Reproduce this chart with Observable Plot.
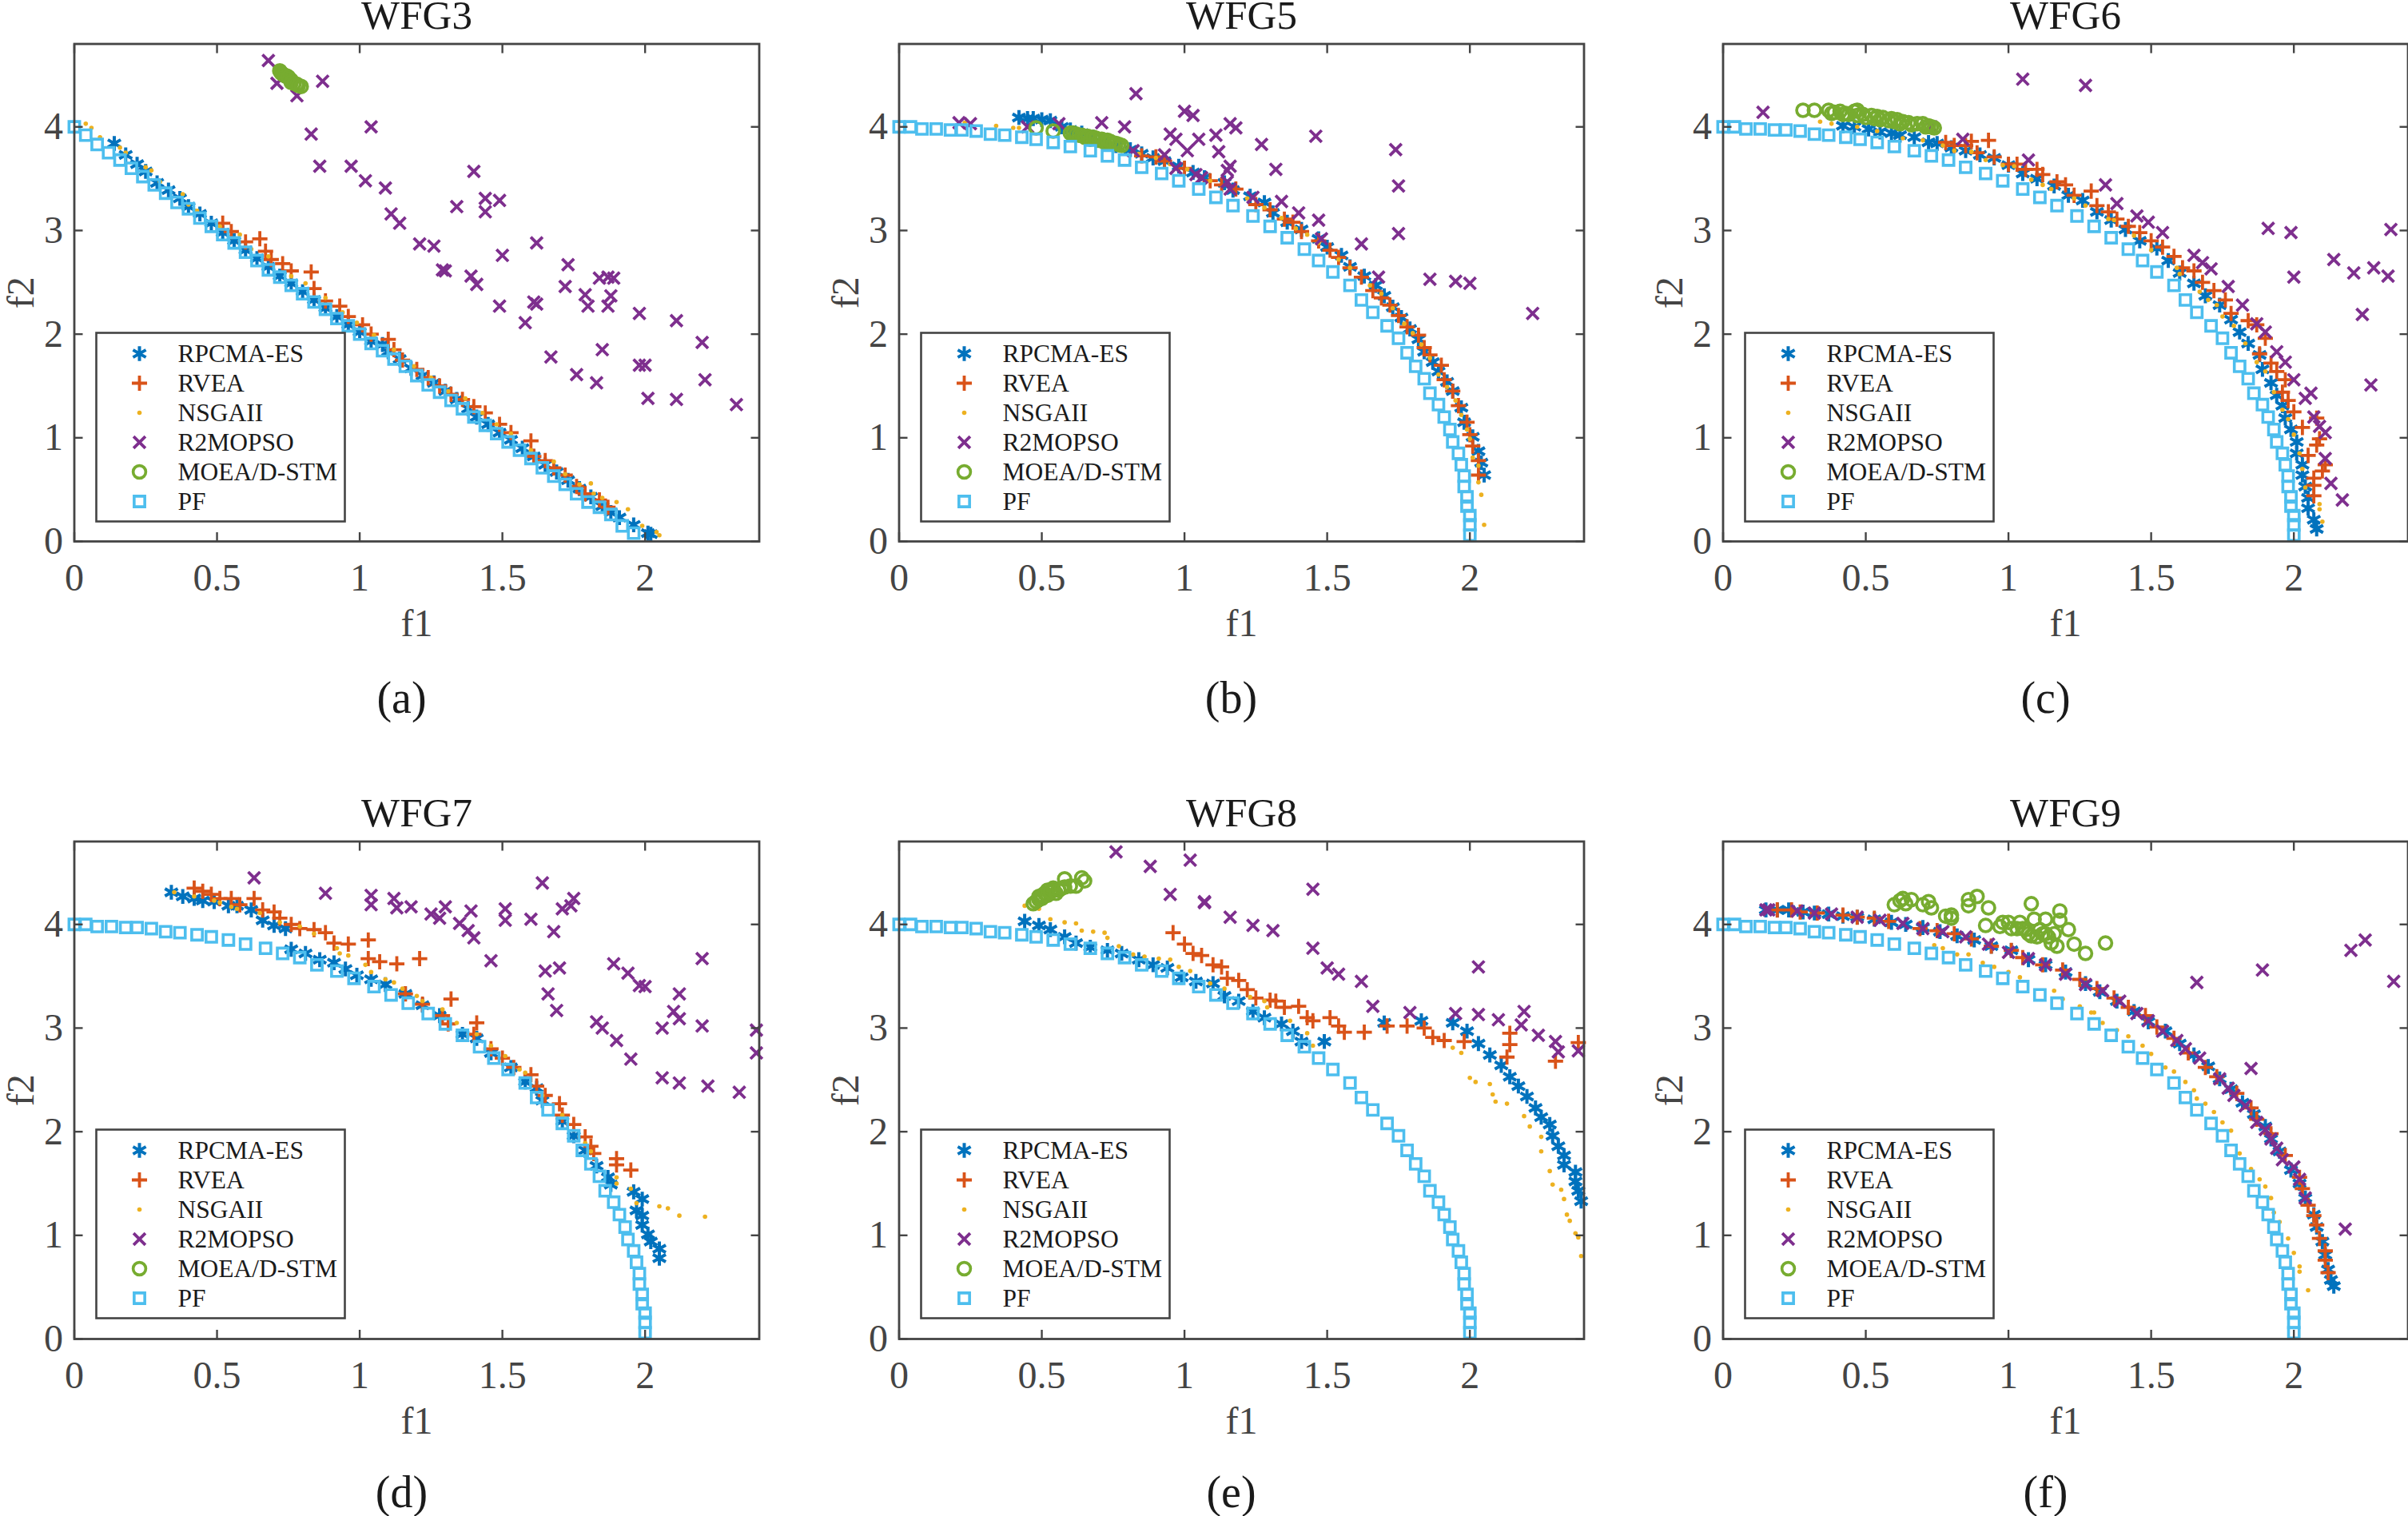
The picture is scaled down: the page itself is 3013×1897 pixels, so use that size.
<!DOCTYPE html>
<html><head><meta charset="utf-8">
<script src="https://cdn.jsdelivr.net/npm/d3@7"></script>
<script src="https://cdn.jsdelivr.net/npm/@observablehq/plot@0.6"></script>
<style>html,body{margin:0;padding:0;background:#fff;width:3013px;height:1897px;overflow:hidden}svg{position:absolute;overflow:visible}</style>
</head><body>
<script>
const xTicks=[0,.5,1,1.5,2];
const yTicks=[0,1,2,3,4];
const algorithms=["RPCMA-ES","RVEA","NSGAII","R2MOPSO","MOEA/D-STM","PF"];
const titles=["WFG3","WFG5","WFG6","WFG7","WFG8","WFG9"];
const captions=["(a)","(b)","(c)","(d)","(e)","(f)"];

const pfLinear=[[0,4],[.04,3.92],[.08,3.83],[.12,3.75],[.16,3.68],[.2,3.6],[.24,3.52],[.28,3.44],[.32,3.36],[.36,3.27],[.4,3.21],[.44,3.12],[.48,3.04],[.52,2.96],[.56,2.88],[.6,2.79],[.64,2.71],[.68,2.62],[.72,2.55],[.76,2.47],[.8,2.39],[.84,2.31],[.88,2.24],[.92,2.15],[.96,2.08],[1,2],[1.04,1.91],[1.08,1.84],[1.12,1.76],[1.16,1.69],[1.2,1.6],[1.24,1.51],[1.28,1.44],[1.32,1.36],[1.36,1.28],[1.4,1.2],[1.44,1.12],[1.48,1.04],[1.52,.96],[1.56,.88],[1.6,.8],[1.64,.71],[1.68,.63],[1.72,.55],[1.76,.46],[1.8,.38],[1.84,.33],[1.88,.26],[1.92,.15],[1.96,.08]];
const pfCurve=[[0,4],[.04,4],[.08,3.98],[.13,3.98],[.18,3.97],[.22,3.97],[.27,3.96],[.32,3.93],[.37,3.92],[.43,3.9],[.48,3.88],[.54,3.85],[.6,3.81],[.67,3.77],[.73,3.72],[.79,3.68],[.85,3.61],[.92,3.55],[.98,3.48],[1.05,3.4],[1.11,3.32],[1.17,3.24],[1.24,3.14],[1.3,3.04],[1.36,2.93],[1.42,2.82],[1.47,2.71],[1.52,2.6],[1.58,2.47],[1.62,2.33],[1.66,2.21],[1.71,2.08],[1.75,1.96],[1.78,1.82],[1.81,1.69],[1.84,1.57],[1.86,1.43],[1.89,1.32],[1.91,1.2],[1.93,1.08],[1.94,.96],[1.96,.85],[1.97,.74],[1.98,.63],[1.98,.53],[1.99,.43],[1.99,.34],[2,.25],[2,.16],[2,.06]];

const wfg3Rpcma=[[.14,3.84],[.18,3.73],[.22,3.64],[.25,3.57],[.29,3.46],[.33,3.39],[.37,3.31],[.4,3.23],[.44,3.16],[.48,3.07],[.52,2.98],[.56,2.9],[.6,2.81],[.64,2.73],[.68,2.65],[.72,2.56],[.76,2.49],[.8,2.41],[.84,2.33],[.88,2.25],[.92,2.17],[.96,2.09],[1,2.02],[1.04,1.93],[1.08,1.9],[1.1,1.83],[1.14,1.76],[1.18,1.67],[1.22,1.6],[1.26,1.53],[1.3,1.45],[1.34,1.37],[1.38,1.28],[1.41,1.2],[1.45,1.13],[1.49,1.05],[1.53,.98],[1.57,.9],[1.61,.82],[1.65,.74],[1.69,.67],[1.73,.59],[1.77,.51],[1.81,.43],[1.85,.34],[1.88,.28],[1.91,.23],[1.96,.16],[2.01,.08],[2.02,.07]];
const wfg3Rvea=[[.52,3.07],[.55,2.99],[.65,2.92],[.6,2.89],[.67,2.8],[.69,2.72],[.73,2.68],[.76,2.61],[.83,2.6],[.84,2.44],[.88,2.32],[.93,2.27],[.96,2.17],[1.01,2.09],[1.04,2],[1.1,1.95],[1.12,1.85],[1.15,1.75],[1.2,1.66],[1.24,1.58],[1.28,1.5],[1.32,1.42],[1.36,1.37],[1.4,1.3],[1.44,1.24],[1.49,1.13],[1.53,1.05],[1.6,.97],[1.61,.82],[1.65,.78],[1.68,.71],[1.72,.64],[1.76,.53],[1.79,.46],[1.84,.4],[1.87,.33]];
const wfg3Nsga=[[.04,4.03],[.06,3.99],[.09,3.9],[.16,3.8],[.18,3.75],[.25,3.61],[.27,3.58],[.3,3.47],[.38,3.35],[.4,3.25],[.43,3.19],[.51,3.04],[.58,2.96],[.62,2.82],[.68,2.75],[.76,2.56],[.81,2.49],[.88,2.35],[.94,2.21],[.99,2.11],[1.05,1.99],[1.12,1.85],[1.19,1.69],[1.25,1.58],[1.31,1.45],[1.37,1.38],[1.43,1.24],[1.48,1.13],[1.53,1.04],[1.6,.88],[1.68,.77],[1.72,.65],[1.77,.55],[1.81,.56],[1.82,.46],[1.85,.42],[1.9,.38],[1.94,.31],[1.99,.15],[2.04,.09],[2.05,.06]];
const wfg3R2=[[.68,4.64],[.71,4.42],[.87,4.44],[.78,4.3],[1.04,4],[.83,3.93],[.86,3.62],[.97,3.62],[1.02,3.48],[1.09,3.41],[1.4,3.57],[1.11,3.16],[1.14,3.07],[1.34,3.23],[1.44,3.31],[1.49,3.29],[1.44,3.18],[1.21,2.87],[1.26,2.85],[1.62,2.88],[1.5,2.76],[1.29,2.62],[1.3,2.61],[1.39,2.56],[1.41,2.48],[1.73,2.67],[1.72,2.46],[1.84,2.54],[1.87,2.55],[1.89,2.54],[1.79,2.38],[1.8,2.27],[1.88,2.37],[1.87,2.27],[1.49,2.27],[1.61,2.31],[1.62,2.29],[1.58,2.11],[1.98,2.2],[2.11,2.13],[2.2,1.92],[1.85,1.85],[1.67,1.78],[1.76,1.61],[1.83,1.53],[1.98,1.7],[2,1.7],[2.21,1.56],[2.01,1.38],[2.11,1.37],[2.32,1.32]];
const wfg3Moea=[[.72,4.54],[.725,4.52],[.73,4.51],[.735,4.5],[.74,4.49],[.745,4.49],[.75,4.48],[.755,4.46],[.76,4.45],[.76,4.43],[.77,4.42],[.78,4.41],[.785,4.4],[.795,4.39]];

const wfg5Rpcma=[[.42,4.09],[.45,4.08],[.47,4.08],[.5,4.07],[.53,4.06],[.57,4],[.6,3.97],[.64,3.94],[.68,3.9],[.72,3.86],[.76,3.82],[.81,3.78],[.85,3.74],[.89,3.7],[.93,3.67],[.98,3.62],[1.03,3.56],[1.07,3.51],[1.14,3.46],[1.17,3.39],[1.23,3.33],[1.28,3.27],[1.31,3.17],[1.36,3.08],[1.41,3.01],[1.47,2.92],[1.5,2.84],[1.55,2.76],[1.58,2.65],[1.63,2.56],[1.67,2.47],[1.7,2.37],[1.73,2.26],[1.76,2.16],[1.79,2.05],[1.82,1.95],[1.84,1.83],[1.87,1.73],[1.89,1.64],[1.92,1.54],[1.94,1.45],[1.97,1.29],[1.98,1.15],[2.01,1.01],[2.03,.87],[2.04,.76],[2.05,.64]];
const wfg5Rvea=[[.85,3.72],[.9,3.71],[.93,3.67],[1,3.6],[1.09,3.48],[1.13,3.44],[1.18,3.4],[1.25,3.25],[1.3,3.2],[1.35,3.11],[1.38,3.08],[1.41,2.99],[1.47,2.9],[1.51,2.81],[1.54,2.74],[1.58,2.64],[1.62,2.55],[1.66,2.42],[1.69,2.35],[1.72,2.28],[1.75,2.18],[1.78,2.07],[1.82,1.99],[1.84,1.87],[1.86,1.8],[1.9,1.7],[1.91,1.56],[1.94,1.45],[1.96,1.31],[1.99,1.15],[2,1.03],[2.01,.92],[2.03,.78],[2.03,.64]];
const wfg5Nsga=[[.23,4.04],[.34,4.01],[.4,3.99],[.42,3.99],[.84,3.74],[.9,3.7],[.95,3.64],[1.01,3.59],[1.09,3.48],[1.22,3.31],[1.28,3.22],[1.34,3.12],[1.39,3.02],[1.43,2.96],[1.47,2.88],[1.54,2.72],[1.58,2.64],[1.65,2.47],[1.69,2.39],[1.73,2.25],[1.77,2.1],[1.8,2.01],[1.83,1.9],[1.86,1.77],[1.89,1.61],[1.92,1.49],[1.95,1.36],[1.97,1.22],[1.99,1.08],[2,.99],[2.01,.81],[2.03,.73],[2.03,.57],[2.04,.45],[2.05,.16]];
const wfg5R2=[[.21,4.04],[.25,4.03],[.45,4],[.56,4.03],[.83,4.32],[.71,4.04],[.79,4],[1,4.15],[1.03,4.11],[.95,3.93],[.97,3.88],[1.05,3.88],[1.11,3.92],[1.01,3.77],[.93,3.73],[1.12,3.76],[1.16,4.03],[1.18,3.99],[1.27,3.83],[1.46,3.91],[1.74,3.78],[1.75,3.43],[1.32,3.59],[1.16,3.62],[1.15,3.58],[.97,3.6],[1.04,3.54],[1.06,3.51],[1.15,3.47],[1.16,3.4],[.82,3.77],[1.24,3.32],[1.34,3.28],[1.4,3.17],[1.47,3.1],[1.48,2.92],[1.75,2.97],[1.62,2.87],[1.68,2.55],[1.86,2.53],[1.95,2.51],[2,2.49],[2.22,2.2]];
const wfg5Moea=[[.48,3.99],[.54,3.96],[.6,3.94],[.61,3.94],[.62,3.93],[.63,3.92],[.64,3.92],[.65,3.9],[.66,3.91],[.67,3.88],[.68,3.9],[.69,3.89],[.7,3.87],[.71,3.88],[.72,3.85],[.73,3.87],[.74,3.86],[.75,3.84],[.76,3.84],[.77,3.83],[.78,3.82]];

const wfg6Rpcma=[[.42,4.01],[.46,4],[.51,3.98],[.55,3.95],[.59,3.94],[.62,3.92],[.67,3.9],[.72,3.85],[.75,3.84],[.8,3.8],[.85,3.77],[.9,3.73],[.95,3.7],[1,3.63],[1.05,3.55],[1.1,3.5],[1.16,3.43],[1.21,3.34],[1.26,3.29],[1.31,3.18],[1.36,3.1],[1.41,3.01],[1.46,2.9],[1.52,2.83],[1.56,2.71],[1.6,2.59],[1.65,2.49],[1.69,2.37],[1.74,2.28],[1.78,2.14],[1.81,2.02],[1.84,1.91],[1.88,1.8],[1.89,1.66],[1.92,1.53],[1.94,1.41],[1.96,1.31],[1.97,1.19],[1.99,1.08],[2.01,.96],[2.01,.85],[2.03,.74],[2.03,.64],[2.04,.53],[2.05,.42],[2.05,.32],[2.07,.21],[2.08,.12]];
const wfg6Rvea=[[.78,3.85],[.81,3.82],[.85,3.82],[.87,3.86],[.93,3.87],[.89,3.75],[.95,3.71],[1,3.64],[1.03,3.64],[1.06,3.59],[1.1,3.59],[1.12,3.54],[1.17,3.47],[1.2,3.44],[1.23,3.34],[1.29,3.38],[1.31,3.24],[1.35,3.18],[1.38,3.11],[1.42,3.04],[1.46,2.98],[1.5,2.9],[1.54,2.84],[1.58,2.75],[1.61,2.64],[1.65,2.61],[1.68,2.5],[1.72,2.42],[1.76,2.33],[1.78,2.2],[1.84,2.13],[1.87,2.09],[1.9,1.96],[1.88,1.81],[1.92,1.72],[1.94,1.64],[1.97,1.56],[1.96,1.44],[1.98,1.36],[2,1.25],[2.03,1.1],[2.08,1.19],[2.09,.99],[2.08,.93],[2.05,.83],[2.11,.74],[2.1,.68],[2.07,.61],[2.07,.54],[2.07,.44]];
const wfg6Nsga=[[.34,4.05],[.38,4.03],[.47,4],[.54,3.96],[.63,3.89],[.7,3.87],[.77,3.82],[.81,3.77],[.87,3.76],[.92,3.68],[.98,3.63],[1.02,3.62],[1.08,3.49],[1.12,3.44],[1.15,3.4],[1.23,3.31],[1.27,3.24],[1.35,3.11],[1.37,3.1],[1.44,2.95],[1.5,2.81],[1.59,2.64],[1.6,2.58],[1.67,2.41],[1.7,2.33],[1.73,2.28],[1.75,2.17],[1.79,2.08],[1.83,1.91],[1.87,1.73],[1.9,1.64],[1.93,1.44],[1.96,1.27],[1.98,1.18],[2,1.03],[2.02,.85],[2.03,.7],[2.04,.52],[2.09,.36],[2.09,.31],[2.1,.19]];
const wfg6R2=[[.14,4.14],[1.05,4.46],[1.27,4.4],[.73,4],[.84,3.88],[1.07,3.68],[1.34,3.44],[1.38,3.26],[1.45,3.14],[1.49,3.08],[1.54,2.98],[1.91,3.02],[1.99,2.98],[2.34,3.01],[1.65,2.76],[1.68,2.69],[1.71,2.63],[2.14,2.72],[2.28,2.64],[2.21,2.59],[2.33,2.56],[2,2.55],[1.77,2.46],[1.82,2.28],[2.24,2.19],[1.87,2.1],[1.9,2.02],[1.94,1.83],[1.97,1.73],[2,1.56],[2.27,1.51],[2.06,1.43],[2.04,1.38],[2.07,1.2],[2.09,1.11],[2.11,1.05],[2.11,.8],[2.13,.56],[2.17,.4]];
const wfg6Moea=[[.28,4.16],[.32,4.16],[.37,4.16],[.39,4.14],[.41,4.15],[.43,4.13],[.46,4.15],[.47,4.16],[.49,4.12],[.52,4.11],[.54,4.1],[.56,4.09],[.59,4.08],[.61,4.07],[.63,4.05],[.65,4.04],[.68,4.03],[.7,4.03],[.72,4.01],[.74,3.99],[.38,4.13],[.42,4.12],[.44,4.12],[.47,4.11],[.5,4.09],[.53,4.08],[.55,4.07],[.58,4.06],[.6,4.05],[.62,4.03],[.66,4.02],[.71,4],[.73,4]];

const wfg7Rpcma=[[.34,4.31],[.38,4.27],[.42,4.25],[.45,4.23],[.49,4.22],[.54,4.18],[.57,4.18],[.62,4.14],[.66,4.04],[.7,3.99],[.74,3.96],[.76,3.76],[.81,3.72],[.86,3.66],[.91,3.63],[.95,3.57],[.99,3.51],[1.04,3.47],[1.09,3.42],[1.16,3.33],[1.22,3.22],[1.28,3.12],[1.36,2.94],[1.41,2.9],[1.46,2.76],[1.53,2.62],[1.58,2.48],[1.62,2.42],[1.64,2.3],[1.71,2.1],[1.75,1.96],[1.79,1.82],[1.83,1.67],[1.87,1.56],[1.88,1.49],[1.96,1.42],[1.99,1.35],[1.97,1.24],[1.99,1.19],[1.99,1.1],[2.01,1.01],[2.02,.94],[2.05,.87],[2.05,.78]];
const wfg7Rvea=[[.42,4.35],[.45,4.32],[.48,4.29],[.51,4.25],[.55,4.25],[.58,4.19],[.63,4.25],[.66,4.14],[.7,4.12],[.72,4.06],[.76,4],[.79,3.96],[.84,3.95],[.88,3.92],[.91,3.82],[.96,3.81],[1.03,3.85],[1.03,3.67],[1.07,3.64],[1.13,3.62],[1.21,3.67],[1.16,3.33],[1.22,3.23],[1.32,3.28],[1.29,3.12],[1.31,3.04],[1.41,3.05],[1.4,2.94],[1.46,2.8],[1.5,2.71],[1.54,2.62],[1.6,2.55],[1.62,2.44],[1.65,2.35],[1.7,2.27],[1.71,2.16],[1.75,2.07],[1.79,1.95],[1.81,1.86],[1.82,1.79],[1.9,1.74],[1.9,1.68],[1.95,1.63]];
const wfg7Nsga=[[.35,4.31],[.42,4.27],[.49,4.23],[.51,4.21],[.55,4.17],[.57,4.15],[.65,4.11],[.72,4.02],[.79,3.98],[.84,3.91],[.92,3.77],[.93,3.72],[.96,3.7],[1.02,3.61],[1.04,3.54],[1.09,3.47],[1.12,3.44],[1.15,3.38],[1.2,3.31],[1.22,3.26],[1.29,3.18],[1.34,3.05],[1.41,2.94],[1.46,2.83],[1.51,2.73],[1.56,2.6],[1.58,2.57],[1.64,2.35],[1.71,2.16],[1.79,1.89],[1.81,1.81],[1.9,1.56],[1.9,1.5],[1.95,1.45],[1.97,1.31],[2.05,1.28],[2.08,1.26],[2.12,1.19],[2.21,1.18]];
const wfg7R2=[[.63,4.45],[1.64,4.4],[.88,4.3],[1.04,4.28],[1.04,4.19],[1.12,4.25],[1.13,4.16],[1.18,4.17],[1.25,4.1],[1.28,4.06],[1.3,4.17],[1.39,4.13],[1.35,4.01],[1.38,3.94],[1.4,3.87],[1.51,4.15],[1.51,4.04],[1.6,4.05],[1.75,4.25],[1.74,4.18],[1.71,4.15],[1.68,3.93],[1.46,3.65],[1.65,3.55],[1.7,3.58],[1.89,3.62],[1.94,3.53],[2.2,3.67],[1.98,3.41],[2,3.4],[2.12,3.33],[1.66,3.33],[1.69,3.17],[2.1,3.16],[2.12,3.09],[1.83,3.06],[1.85,3],[2.06,3],[2.2,3.02],[2.39,2.98],[1.9,2.88],[2.39,2.76],[1.95,2.7],[2.06,2.52],[2.12,2.47],[2.22,2.44],[2.33,2.38]];
const wfg7Moea=[];

const wfg8Rpcma=[[.44,4.03],[.49,3.99],[.53,3.95],[.58,3.88],[.62,3.82],[.67,3.78],[.73,3.75],[.78,3.72],[.84,3.66],[.89,3.61],[.94,3.58],[.99,3.49],[1.04,3.45],[1.1,3.43],[1.14,3.31],[1.19,3.26],[1.24,3.16],[1.28,3.1],[1.34,3.04],[1.38,2.97],[1.41,2.87],[1.49,2.87],[1.7,3.05],[1.83,3.07],[1.94,3.05],[1.99,2.97],[2.03,2.85],[2.07,2.74],[2.11,2.64],[2.14,2.53],[2.17,2.44],[2.2,2.34],[2.23,2.23],[2.25,2.14],[2.28,2.07],[2.29,1.96],[2.31,1.86],[2.33,1.77],[2.33,1.68],[2.37,1.61],[2.37,1.52],[2.38,1.43],[2.39,1.33]];
const wfg8Rvea=[[.96,3.92],[1,3.81],[1.03,3.72],[1.06,3.7],[1.1,3.61],[1.13,3.59],[1.15,3.48],[1.19,3.46],[1.22,3.37],[1.25,3.29],[1.3,3.27],[1.32,3.26],[1.35,3.2],[1.4,3.21],[1.43,3.1],[1.45,3.07],[1.51,3.1],[1.54,3.02],[1.56,2.96],[1.63,2.96],[1.71,3.02],[1.78,3.02],[1.84,3],[1.87,2.91],[1.91,2.88],[1.98,2.87],[2.14,2.95],[2.14,2.84],[2.13,2.72],[2.3,2.68],[2.38,2.86]];
const wfg8Nsga=[[.44,4.18],[.49,4.15],[.53,4.05],[.58,4.02],[.62,4.01],[.64,3.94],[.68,3.93],[.72,3.92],[.73,3.87],[.77,3.79],[.82,3.71],[.86,3.69],[.91,3.67],[.95,3.66],[.98,3.59],[1.02,3.55],[1.09,3.43],[1.14,3.38],[1.23,3.3],[1.28,3.26],[1.29,3.2],[1.37,3.07],[1.43,2.95],[1.45,2.83],[1.94,2.81],[1.97,2.76],[2,2.52],[2.02,2.48],[2.07,2.46],[2.08,2.36],[2.09,2.29],[2.13,2.27],[2.19,2.15],[2.21,2.05],[2.25,1.95],[2.25,1.81],[2.28,1.62],[2.29,1.49],[2.32,1.44],[2.33,1.35],[2.34,1.2],[2.35,1.14],[2.37,1.02],[2.38,.98],[2.39,.8]];
const wfg8R2=[[.76,4.7],[1.02,4.62],[.88,4.56],[.95,4.29],[1.45,4.34],[1.07,4.21],[1.07,4.22],[1.16,4.07],[1.24,3.99],[1.31,3.94],[1.45,3.77],[1.5,3.58],[1.54,3.52],[1.62,3.45],[2.03,3.59],[1.66,3.21],[1.79,3.15],[1.95,3.14],[2.03,3.13],[2.1,3.08],[2.19,3.16],[2.18,3.03],[2.24,2.93],[2.3,2.87],[2.31,2.77],[2.38,2.78]];
const wfg8Moea=[[.47,4.2],[.48,4.22],[.49,4.24],[.49,4.27],[.5,4.25],[.5,4.28],[.51,4.3],[.52,4.28],[.52,4.33],[.53,4.31],[.54,4.33],[.54,4.35],[.55,4.3],[.56,4.33],[.57,4.35],[.58,4.36],[.58,4.44],[.6,4.37],[.62,4.37],[.64,4.45],[.65,4.42]];

const wfg9Rpcma=[[.15,4.14],[.19,4.14],[.23,4.14],[.28,4.12],[.32,4.11],[.37,4.1],[.42,4.08],[.47,4.07],[.53,4.05],[.59,4.02],[.64,4],[.7,3.97],[.76,3.93],[.82,3.89],[.88,3.85],[.94,3.79],[1.01,3.75],[1.07,3.66],[1.13,3.61],[1.2,3.54],[1.27,3.43],[1.32,3.35],[1.38,3.26],[1.44,3.16],[1.49,3.06],[1.55,2.97],[1.6,2.85],[1.65,2.74],[1.7,2.63],[1.74,2.51],[1.78,2.41],[1.82,2.28],[1.86,2.17],[1.9,2.05],[1.92,1.93],[1.95,1.81],[1.99,1.63],[2.02,1.5],[2.04,1.36],[2.07,1.2],[2.08,1.08],[2.1,.94],[2.11,.81],[2.12,.67],[2.13,.57],[2.14,.51]];
const wfg9Rvea=[[.19,4.14],[.24,4.14],[.27,4.12],[.33,4.11],[.42,4.09],[.47,4.07],[.53,4.06],[.58,4.03],[.69,3.96],[.75,3.94],[.81,3.91],[.87,3.86],[.94,3.79],[1.01,3.75],[1.05,3.68],[1.12,3.61],[1.19,3.56],[1.25,3.47],[1.31,3.38],[1.37,3.29],[1.42,3.2],[1.48,3.12],[1.52,3.01],[1.58,2.9],[1.63,2.76],[1.69,2.62],[1.73,2.53],[1.8,2.37],[1.85,2.23],[1.87,2.12],[1.92,1.98],[1.97,1.77],[2.02,1.56],[2.03,1.45],[2.05,1.29],[2.07,1.19],[2.08,1.1],[2.09,.97],[2.11,.85],[2.11,.76],[2.12,.64]];
const wfg9Nsga=[[.74,3.8],[.77,3.77],[.82,3.71],[.86,3.71],[.91,3.63],[.95,3.59],[1,3.54],[1.04,3.49],[1.16,3.36],[1.19,3.28],[1.25,3.21],[1.29,3.15],[1.3,3.15],[1.33,3.05],[1.38,2.98],[1.42,2.92],[1.47,2.83],[1.5,2.75],[1.55,2.62],[1.58,2.58],[1.62,2.48],[1.65,2.4],[1.66,2.32],[1.69,2.27],[1.72,2.19],[1.75,2.09],[1.78,2.01],[1.81,1.79],[1.85,1.64],[1.88,1.54],[1.9,1.47],[1.92,1.36],[1.93,1.22],[1.95,1.13],[1.98,.97],[2,.83],[2.02,.7],[2.02,.65],[2.05,.47]];
const wfg9R2=[[.15,4.14],[.16,4.14],[.26,4.13],[.32,4.11],[.38,4.1],[.47,4.07],[.55,4.04],[.63,4.01],[.7,3.96],[.77,3.93],[.85,3.88],[.93,3.81],[1,3.73],[1.07,3.67],[1.13,3.61],[1.2,3.52],[1.27,3.42],[1.33,3.36],[1.39,3.26],[1.45,3.14],[1.49,3.07],[1.54,2.97],[1.59,2.88],[1.62,2.8],[1.67,2.71],[1.74,2.51],[1.77,2.42],[1.79,2.35],[1.83,2.25],[1.87,2.09],[1.9,2.02],[1.92,1.93],[1.94,1.84],[1.96,1.73],[2,1.66],[2.02,1.54],[2.04,1.36],[1.66,3.44],[1.89,3.56],[1.85,2.61],[2.2,3.75],[2.25,3.85],[2.35,3.45],[2.18,1.06]];
const wfg9Moea=[[.6,4.19],[.62,4.23],[.63,4.25],[.64,4.2],[.66,4.24],[.7,4.19],[.72,4.22],[.73,4.16],[.78,4.08],[.8,4.09],[.8,4.06],[.86,4.18],[.86,4.24],[.89,4.27],[.93,4.16],[.92,3.99],[.97,3.98],[.98,4.02],[1,4.02],[1.01,3.96],[1.04,4.02],[1.05,3.96],[1.08,4.2],[1.09,4.05],[1.13,4.05],[1.18,4.13],[1.18,4.04],[1.21,3.95],[1.07,3.91],[1.08,3.89],[1.11,3.95],[1.13,3.91],[1.16,3.91],[1.15,3.82],[1.17,3.79],[1.23,3.81],[1.27,3.72],[1.34,3.82],[1.03,3.96],[1.06,3.95],[1.1,3.88],[1.12,3.91],[1.14,3.88]];

const panelData=[
 [wfg3Rpcma,wfg3Rvea,wfg3Nsga,wfg3R2,wfg3Moea,pfLinear],
 [wfg5Rpcma,wfg5Rvea,wfg5Nsga,wfg5R2,wfg5Moea,pfCurve],
 [wfg6Rpcma,wfg6Rvea,wfg6Nsga,wfg6R2,wfg6Moea,pfCurve],
 [wfg7Rpcma,wfg7Rvea,wfg7Nsga,wfg7R2,wfg7Moea,pfCurve],
 [wfg8Rpcma,wfg8Rvea,wfg8Nsga,wfg8R2,wfg8Moea,pfCurve],
 [wfg9Rpcma,wfg9Rvea,wfg9Nsga,wfg9R2,wfg9Moea,pfCurve]];

const styles=[
 {symbol:"asterisk",r:8.8,stroke:"#0072BD",strokeWidth:4,fill:"none"},
 {symbol:"plus",r:6.2,stroke:"#D95319",strokeWidth:3.8,fill:"none"},
 {symbol:"circle",r:2.8,stroke:"none",fill:"#EDB120"},
 {symbol:"times",r:6.8,stroke:"#7E2F8E",strokeWidth:3.8,fill:"none"},
 {symbol:"circle",r:7.9,stroke:"#77AC30",strokeWidth:3.7,fill:"none"},
 {symbol:"square",r:7.5,stroke:"#4DBEEE",strokeWidth:3.6,fill:"none"}];

const ink="#444444", font="'Liberation Serif','Times New Roman',serif";
const colLeft=[0,1031.5,2062.5], rowTop=[0,997.5], capDy=[197,193], capDx=[-19,-13,-25];

titles.forEach((title,i)=>{
 const col=i%3, row=Math.floor(i/3);
 const axisCommon={fontSize:48,color:ink,strokeWidth:2.4,strokeLinecap:"butt"};
 const tickX=a=>Plot.axisX({...axisCommon,anchor:a,ticks:xTicks,tickSize:-11,text:null,label:null});
 const tickY=a=>Plot.axisY({...axisCommon,anchor:a,ticks:yTicks,tickSize:-11,text:null,label:null});
 const svg=Plot.plot({
  width:950,height:900,marginLeft:92.5,marginRight:.5,marginTop:54.5,marginBottom:223,
  style:{fontFamily:font,background:"transparent",overflow:"visible"},
  x:{domain:[0,2.4],axis:null},y:{domain:[0,4.8],axis:null},
  marks:[
   ...panelData[i].map((d,k)=>Plot.dot(d,{x:p=>p[0],y:p=>p[1],...styles[k]})),
   Plot.frame({stroke:ink,strokeWidth:2.8}),
   tickX("bottom"),tickX("top"),tickY("left"),tickY("right"),
   Plot.axisX({...axisCommon,anchor:"bottom",ticks:xTicks,tickSize:0,tickPadding:27,tickFormat:String,label:"f1",labelArrow:"none",labelAnchor:"center",labelOffset:118}),
   Plot.axisY({...axisCommon,anchor:"left",ticks:yTicks,tickSize:0,tickPadding:14,tickFormat:String,label:"f2",labelArrow:"none",labelAnchor:"center",labelOffset:85}),
   Plot.text([title],{frameAnchor:"top",dy:-35,fontSize:51,fill:"#1a1a1a",lineAnchor:"middle",text:d=>d}),
   Plot.text([captions[i]],{frameAnchor:"bottom",dy:capDy[row],dx:capDx[col],fontSize:56,fill:"#1a1a1a",lineAnchor:"middle",text:d=>d})
  ]});
 svg.style.left=colLeft[col]+"px"; svg.style.top=rowTop[row]+"px";
 document.body.append(svg);

 const legend=Plot.plot({
  width:311,height:236,margin:0,
  style:{fontFamily:font,background:"#fff",overflow:"visible"},
  y:{type:"point",domain:algorithms,range:[24.5,212.5],padding:0,axis:null},
  marks:[
   Plot.frame({stroke:ink,strokeWidth:2.6}),
   ...algorithms.map((name,k)=>Plot.dot([name],{y:d=>d,frameAnchor:"left",dx:54,...styles[k]})),
   Plot.text(algorithms,{y:d=>d,text:d=>d,frameAnchor:"left",dx:102,textAnchor:"start",fontSize:31.5,fill:"#1a1a1a"})
  ]});
 legend.style.left=(colLeft[col]+120)+"px";
 legend.style.top=(rowTop[row]+415.5)+"px";
 document.body.append(legend);
});
</script>
</body></html>
